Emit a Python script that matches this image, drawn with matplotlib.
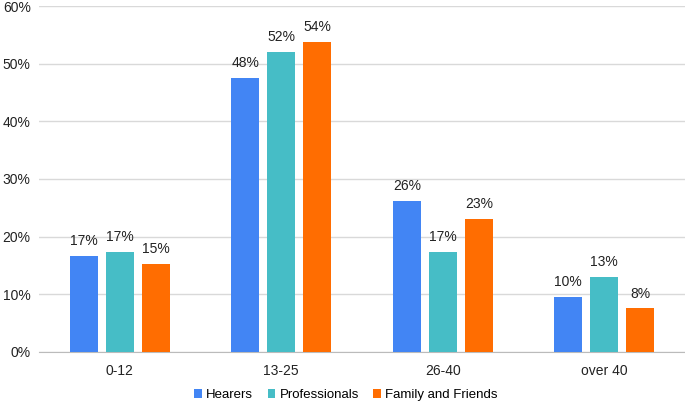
import numpy as np
import matplotlib
matplotlib.use("Agg")
import matplotlib.pyplot as plt
from matplotlib.ticker import PercentFormatter

plt.rcParams['font.family'] = ['Liberation Sans', 'DejaVu Sans']

categories = ['0-12', '13-25', '26-40', 'over 40']
hearers = [16.7, 47.6, 26.2, 9.6]
professionals = [17.4, 52.1, 17.4, 13.0]
family_friends = [15.3, 53.8, 23.1, 7.6]
series = [('Hearers', hearers, '#4285F4'),
          ('Professionals', professionals, '#46BDC6'),
          ('Family and Friends', family_friends, '#FF6D01')]

fig = plt.figure(figsize=(6.85, 4.04), dpi=100)
ax = fig.add_axes([0.057, 0.129, 0.943, 0.856])

x = np.arange(len(categories))
width = 0.175
step = 0.223
for i, (name, vals, color) in enumerate(series):
    pos = x + (i - 1) * step
    bars = ax.bar(pos, vals, width, color=color, label=name, zorder=3)
    for b, v in zip(bars, vals):
        ax.text(b.get_x() + b.get_width() / 2, v + 1.3, '%d%%' % round(v),
                ha='center', va='bottom', fontsize=10, color='#222222')

ax.set_xlim(-0.5, len(categories) - 0.5)
ax.set_ylim(0, 60)
ax.set_yticks(range(0, 61, 10))
ax.yaxis.set_major_formatter(PercentFormatter(decimals=0))
ax.set_xticks(x)
ax.set_xticklabels(categories)
ax.tick_params(axis='both', length=0, labelsize=10, colors='#222222')
ax.tick_params(axis='x', pad=9)
ax.tick_params(axis='y', pad=6)
ax.grid(axis='y', color='#d9d9d9', linewidth=1, zorder=0)
for s in ['top', 'right', 'left']:
    ax.spines[s].set_visible(False)
ax.spines['bottom'].set_color('#bbbbbb')

fig.legend(loc='center', bbox_to_anchor=(0.505, 0.022), ncol=3, frameon=False,
           fontsize=9.5, handlelength=0.6, handleheight=0.6, handletextpad=0.3,
           columnspacing=1.1)

fig.savefig('out.png', dpi=100)
